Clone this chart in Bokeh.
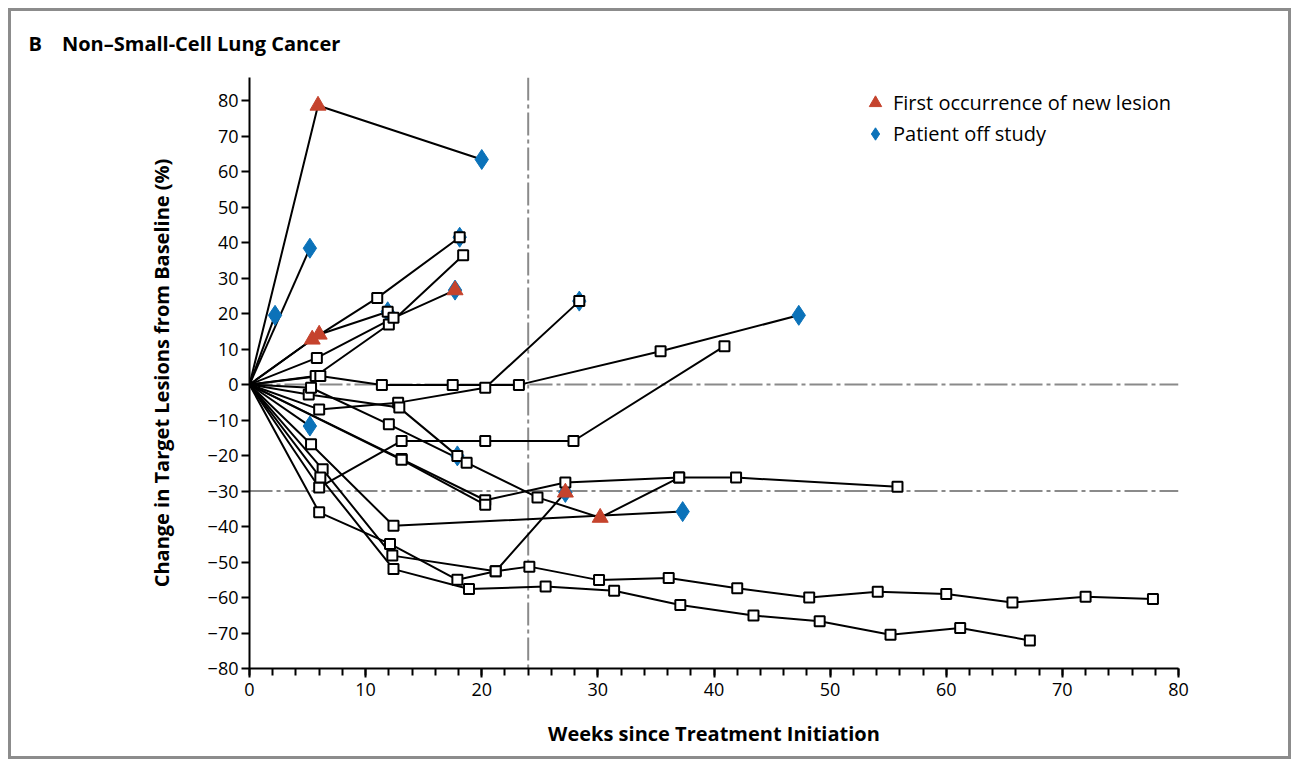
from bokeh.plotting import figure
from bokeh.models import (Range1d, Span, Legend, LegendItem,
                          ColumnDataSource, FixedTicker)
from bokeh.embed import file_html
from bokeh.resources import INLINE

# ---------------- data ----------------
panel_letter = "B"
panel_title = "Non–Small-Cell Lung Cancer"
x_label = "Weeks since Treatment Initiation"
y_label = "Change in Target Lesions from Baseline (%)"
legend_labels = ["First occurrence of new lesion", "Patient off study"]
x_ticks = [0, 10, 20, 30, 40, 50, 60, 70, 80]
x_minor_ticks = list(range(0, 81, 2))
y_ticks = [-80, -70, -60, -50, -40, -30, -20, -10, 0, 10, 20, 30, 40, 50, 60, 70, 80]
reference_change = [0, -30]
reference_week = [24]

# one list per patient: weeks, % change, marker code per point
# codes: "" none, "s" square, "t" new lesion, "d" off study
weeks = [
    [0, 5.9, 20.0],
    [0, 2.2],
    [0, 5.2],
    [0, 5.4, 11.0, 18.1],
    [0, 6.0, 11.9],
    [0, 5.7, 12.0, 18.4],
    [0, 5.8, 12.4, 17.7],
    [0, 6.1, 11.4, 17.5, 23.2, 35.4, 47.3],
    [0, 6.0, 12.8, 20.3, 28.4],
    [0, 5.1, 12.9, 17.9],
    [0, 5.3, 12.0, 18.7, 24.8, 30.2, 37.0],
    [0, 6.0, 13.1, 20.3, 27.9, 40.9],
    [0, 13.1, 20.3, 27.2, 37.0, 41.9, 55.8],
    [0, 13.1, 20.3],
    [0, 6.0, 12.1, 17.9, 21.2, 27.2],
    [0, 6.3, 12.3, 21.2, 24.1, 30.1, 36.1, 42.0, 48.2, 54.1, 60.0, 65.7, 72.0, 77.8],
    [0, 6.1, 12.4, 18.9, 25.5, 31.4, 37.1, 43.4, 49.1, 55.2, 61.2, 67.2],
    [0, 5.3, 12.4, 37.3],
    [0, 5.2],
]
change = [
    [0, 78.6, 63.4],
    [0, 19.5],
    [0, 38.4],
    [0, 12.7, 24.4, 41.5],
    [0, 14.1, 20.5],
    [0, 2.4, 16.9, 36.4],
    [0, 7.5, 18.8, 26.6],
    [0, 2.4, -0.1, -0.1, -0.1, 9.4, 19.5],
    [0, -7.0, -5.1, -0.9, 23.5],
    [0, -2.8, -6.5, -20.1],
    [0, -0.9, -11.2, -22.0, -31.8, -37.5, -26.2],
    [0, -29.0, -15.9, -15.9, -15.9, 10.8],
    [0, -21.0, -32.6, -27.6, -26.2, -26.2, -28.8],
    [0, -21.2, -33.9],
    [0, -36.0, -44.9, -55.0, -52.6, -30.4],
    [0, -23.9, -48.2, -52.6, -51.3, -55.1, -54.5, -57.4, -60.0, -58.4, -59.0, -61.4, -59.8, -60.4],
    [0, -26.2, -52.0, -57.6, -56.9, -58.1, -62.1, -65.1, -66.7, -70.5, -68.6, -72.1],
    [0, -16.8, -39.8, -35.8],
    [0, -11.7],
]
marks = [
    ["", "t", "d"],
    ["", "d"],
    ["", "d"],
    ["", "t", "s", "sd"],
    ["", "t", "sd"],
    ["", "s", "s", "s"],
    ["", "s", "s", "td"],
    ["", "s", "s", "s", "s", "s", "d"],
    ["", "s", "s", "s", "sd"],
    ["", "s", "s", "sd"],
    ["", "s", "s", "s", "s", "t", "s"],
    ["", "s", "s", "s", "s", "s"],
    ["", "s", "s", "s", "s", "s", "s"],
    ["", "s", "s"],
    ["", "s", "s", "s", "s", "td"],
    ["", "s", "s", "s", "s", "s", "s", "s", "s", "s", "s", "s", "s", "s"],
    ["", "s", "s", "s", "s", "s", "s", "s", "s", "s", "s", "s"],
    ["", "s", "s", "d"],
    ["", "d"],
]

# ---------------- styles ----------------
FONT = "Open Sans"
RED = "#C5432D"
BLUE = "#0B72B9"
GREY = "#8a8a8a"

sq = dict(x=[], y=[])
tri = dict(x=[], y=[])
dia = dict(x=[], y=[])
for wl, cl, ml in zip(weeks, change, marks):
    for w, c, m in zip(wl, cl, ml):
        if "s" in m:
            sq["x"].append(w); sq["y"].append(c)
        if "t" in m:
            tri["x"].append(w); tri["y"].append(c)
        if "d" in m:
            dia["x"].append(w); dia["y"].append(c)

p = figure(width=1283, height=751,
           x_range=Range1d(0, 80), y_range=Range1d(-80, 86.5),
           output_backend="svg", toolbar_location=None,
           min_border_left=238, min_border_right=116,
           min_border_top=65, min_border_bottom=94)
p.styles = {"border": "3px solid #8c8c8c", "margin-left": "8px", "margin-top": "8px"}
p.xgrid.visible = False
p.ygrid.visible = False
p.outline_line_color = None
p.background_fill_color = "white"
p.border_fill_color = "white"

# title (panel letter + title)
p.title.text = panel_letter + "\u2003" + panel_title
p.title.text_font = FONT
p.title.text_font_size = "20px"
p.title.text_font_style = "bold"
p.title.text_color = "black"
p.title.align = "left"
p.title.vertical_align = "top"
p.title.offset = -221
p.title.standoff = 37

# axes
for ax in (p.xaxis[0], p.yaxis[0]):
    ax.axis_line_width = 2
    ax.axis_line_color = "black"
    ax.major_tick_line_width = 2
    ax.major_tick_line_color = "black"
    ax.major_tick_in = 0
    ax.major_label_text_font = FONT
    ax.major_label_text_font_size = "18px"
    ax.major_label_text_color = "black"
    ax.axis_label_text_font = FONT
    ax.axis_label_text_font_size = "20px"
    ax.axis_label_text_font_style = "bold"
    ax.axis_label_text_color = "black"

p.xaxis.ticker = FixedTicker(ticks=x_ticks, minor_ticks=x_minor_ticks)
p.xaxis.major_tick_out = 9
p.xaxis.minor_tick_in = 0
p.xaxis.minor_tick_out = 7
p.xaxis.minor_tick_line_width = 2
p.xaxis.minor_tick_line_color = "black"
p.xaxis.major_label_standoff = 5
p.xaxis.axis_label = x_label
p.xaxis.axis_label_standoff = 21

p.yaxis.ticker = FixedTicker(ticks=y_ticks, minor_ticks=[])
p.yaxis.major_tick_out = 8
p.yaxis.minor_tick_line_color = None
p.yaxis.major_label_standoff = 3
p.yaxis.major_label_overrides = {t: str(t).replace("-", "\u2212") for t in y_ticks}
p.yaxis.axis_label = y_label
p.yaxis.axis_label_standoff = 30

# reference lines
for loc in reference_change:
    p.add_layout(Span(location=loc, dimension="width", line_color=GREY,
                      line_width=2, line_dash="23 4 4 4", level="underlay"))
for loc in reference_week:
    p.add_layout(Span(location=loc, dimension="height", line_color=GREY,
                      line_width=2, line_dash="23 4 4 4", level="underlay"))

# patient lines
p.multi_line(xs="xs", ys="ys", source=ColumnDataSource(dict(xs=weeks, ys=change)),
             line_color="black", line_width=2)

r_dia = p.scatter(x="x", y="y", source=ColumnDataSource(dia), marker="diamond",
                  size=20, fill_color=BLUE, line_color=BLUE, line_width=1)
p.scatter(x="x", y="y", source=ColumnDataSource(sq), marker="square",
          size=10, fill_color="white", line_color="black", line_width=2)
r_tri = p.scatter(x="x", y="y", source=ColumnDataSource(tri), marker="triangle",
                  size=16, fill_color=RED, line_color=RED, line_width=1)

legend = Legend(items=[LegendItem(label=legend_labels[0], renderers=[r_tri]),
                       LegendItem(label=legend_labels[1], renderers=[r_dia])],
                location=(608, 519), orientation="vertical",
                glyph_width=36, glyph_height=31, spacing=0,
                label_standoff=0, padding=0, margin=0,
                border_line_color=None, background_fill_alpha=0,
                label_text_font=FONT, label_text_font_size="20px",
                label_text_color="black")
p.add_layout(legend)

open("out.html", "w").write(file_html(p, INLINE))
